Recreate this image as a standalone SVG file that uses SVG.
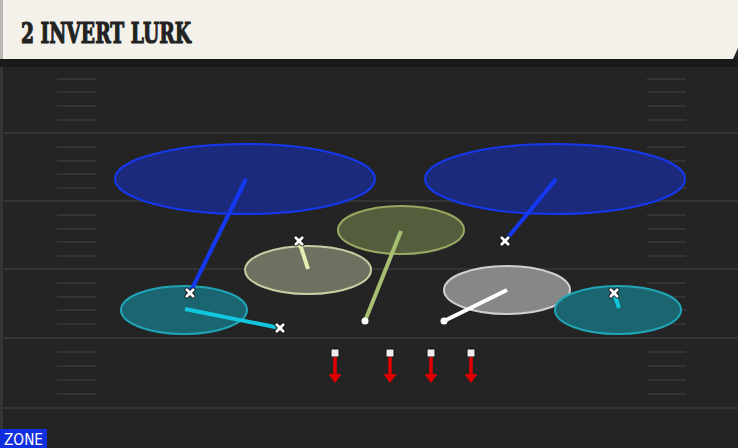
<svg xmlns="http://www.w3.org/2000/svg" width="738" height="448" viewBox="0 0 738 448">
<defs>
<style>
.fl{stroke:#343434;stroke-width:2}
.hm{stroke:#393939;stroke-width:1.5}
.zone{stroke-width:2}
.rt{stroke-width:4;stroke-linecap:butt;fill:none}
.xo{stroke:#111;stroke-width:4.5;stroke-linecap:round}
.x{stroke:#fff;stroke-width:2.8;stroke-linecap:round}
.ra{stroke:#e00000;stroke-width:3.5}
</style>
<g id="xm"><path class="xo" d="M-3.2,-3.2 L3.2,3.2 M3.2,-3.2 L-3.2,3.2"/><path class="x" d="M-3.2,-3.2 L3.2,3.2 M3.2,-3.2 L-3.2,3.2"/></g>
<g id="arrow"><rect x="-4" y="0" width="8" height="8" fill="#eeeeee" stroke="#111" stroke-width="1"/><line class="ra" x1="0" y1="8" x2="0" y2="28"/><path d="M-6.5,25 L6.5,25 L0,34 Z" fill="#e00000"/></g>
</defs>
<rect x="0" y="0" width="738" height="448" fill="#242424"/>
<line x1="1.5" y1="60" x2="1.5" y2="448" stroke="#3c3c3c" stroke-width="2"/>
<g id="field">
<line class="fl" x1="0" y1="133" x2="738" y2="133"/>
<line class="fl" x1="0" y1="201" x2="738" y2="201"/>
<line class="fl" x1="0" y1="269" x2="738" y2="269"/>
<line class="fl" x1="0" y1="338" x2="738" y2="338"/>
<line class="fl" x1="0" y1="408" x2="738" y2="408"/>
<g id="hash-left">
<line class="hm" x1="57" y1="79" x2="96" y2="79"/><line class="hm" x1="57" y1="92" x2="96" y2="92"/><line class="hm" x1="57" y1="106" x2="96" y2="106"/><line class="hm" x1="57" y1="120" x2="96" y2="120"/>
<line class="hm" x1="57" y1="147" x2="96" y2="147"/><line class="hm" x1="57" y1="161" x2="96" y2="161"/><line class="hm" x1="57" y1="174" x2="96" y2="174"/><line class="hm" x1="57" y1="188" x2="96" y2="188"/>
<line class="hm" x1="57" y1="215" x2="96" y2="215"/><line class="hm" x1="57" y1="229" x2="96" y2="229"/><line class="hm" x1="57" y1="242" x2="96" y2="242"/><line class="hm" x1="57" y1="256" x2="96" y2="256"/>
<line class="hm" x1="57" y1="283" x2="96" y2="283"/><line class="hm" x1="57" y1="297" x2="96" y2="297"/><line class="hm" x1="57" y1="310" x2="96" y2="310"/><line class="hm" x1="57" y1="324" x2="96" y2="324"/>
<line class="hm" x1="57" y1="352" x2="96" y2="352"/><line class="hm" x1="57" y1="366" x2="96" y2="366"/><line class="hm" x1="57" y1="380" x2="96" y2="380"/><line class="hm" x1="57" y1="394" x2="96" y2="394"/>
</g>
<g id="hash-right">
<line class="hm" x1="647" y1="79" x2="686" y2="79"/><line class="hm" x1="647" y1="92" x2="686" y2="92"/><line class="hm" x1="647" y1="106" x2="686" y2="106"/><line class="hm" x1="647" y1="120" x2="686" y2="120"/>
<line class="hm" x1="647" y1="147" x2="686" y2="147"/><line class="hm" x1="647" y1="161" x2="686" y2="161"/><line class="hm" x1="647" y1="174" x2="686" y2="174"/><line class="hm" x1="647" y1="188" x2="686" y2="188"/>
<line class="hm" x1="647" y1="215" x2="686" y2="215"/><line class="hm" x1="647" y1="229" x2="686" y2="229"/><line class="hm" x1="647" y1="242" x2="686" y2="242"/><line class="hm" x1="647" y1="256" x2="686" y2="256"/>
<line class="hm" x1="647" y1="283" x2="686" y2="283"/><line class="hm" x1="647" y1="297" x2="686" y2="297"/><line class="hm" x1="647" y1="310" x2="686" y2="310"/><line class="hm" x1="647" y1="324" x2="686" y2="324"/>
<line class="hm" x1="647" y1="352" x2="686" y2="352"/><line class="hm" x1="647" y1="366" x2="686" y2="366"/><line class="hm" x1="647" y1="380" x2="686" y2="380"/><line class="hm" x1="647" y1="394" x2="686" y2="394"/>
</g>
</g>
<g id="header">
<rect x="0" y="58" width="738" height="9" fill="#1a1a1a"/>
<path d="M0,0 L738,0 L738,48 L733,59 L0,59 Z" fill="#f4f1ea"/>
<rect x="0" y="0" width="3" height="59" fill="#b8b8b4"/>
<text x="21" y="43" font-family="DejaVu Serif, serif" font-weight="bold" font-size="28" fill="#222" stroke="#222" stroke-width="1.2" textLength="170" lengthAdjust="spacingAndGlyphs">2 INVERT LURK</text>
</g>
<g id="zones">
<ellipse id="deep-left" class="zone" cx="245" cy="179" rx="130" ry="35" fill="#1c2a7c" stroke="#1538ee" stroke-width="3"/>
<ellipse id="deep-right" class="zone" cx="555" cy="179" rx="130" ry="35" fill="#1c2a7c" stroke="#1538ee" stroke-width="3"/>
<ellipse id="flat-left" class="zone" cx="184" cy="310" rx="63" ry="24" fill="#1a6570" stroke="#1fa5b5"/>
<ellipse id="hook-left" class="zone" cx="308" cy="270" rx="63" ry="24" fill="#6e7160" stroke="#c9cda4"/>
<ellipse id="lurk" class="zone" cx="401" cy="230" rx="63" ry="24" fill="#545e3c" stroke="#98a862"/>
<ellipse id="hook-right" class="zone" cx="507" cy="290" rx="63" ry="24" fill="#878787" stroke="#cfcfcf"/>
<ellipse id="flat-right" class="zone" cx="618" cy="310" rx="63" ry="24" fill="#1a6570" stroke="#1fa5b5"/>
</g>
<g id="connectors">
<line class="rt" x1="246" y1="179" x2="190" y2="293" stroke="#1538f5"/>
<line class="rt" x1="556" y1="179" x2="505" y2="241" stroke="#1538f5"/>
<line class="rt" x1="185" y1="309" x2="280" y2="328" stroke="#12c6de"/>
<line class="rt" x1="619" y1="308" x2="614" y2="293" stroke="#12c6de"/>
<line class="rt" x1="308" y1="269" x2="299" y2="241" stroke="#e6eeb4"/>
<line class="rt" x1="401" y1="231" x2="365" y2="321" stroke="#a6be72"/>
<line class="rt" x1="507" y1="290" x2="444" y2="321" stroke="#ffffff"/>
<use href="#xm" x="190" y="293"/>
<use href="#xm" x="505" y="241"/>
<use href="#xm" x="280" y="328"/>
<use href="#xm" x="614" y="293"/>
<use href="#xm" x="299" y="241"/>
<circle cx="365" cy="321" r="3.5" fill="#fff"/>
<circle cx="444" cy="321" r="3.5" fill="#fff"/>
</g>
<g id="rushers">
<use href="#arrow" x="335" y="349"/>
<use href="#arrow" x="390" y="349"/>
<use href="#arrow" x="431" y="349"/>
<use href="#arrow" x="471" y="349"/>
</g>
<g id="legend">
<rect x="0" y="429" width="47" height="19" fill="#1030e0"/>
<text x="4" y="445" font-family="DejaVu Sans, sans-serif" font-size="16" fill="#fff" textLength="39" lengthAdjust="spacingAndGlyphs">ZONE</text>
</g>
</svg>
